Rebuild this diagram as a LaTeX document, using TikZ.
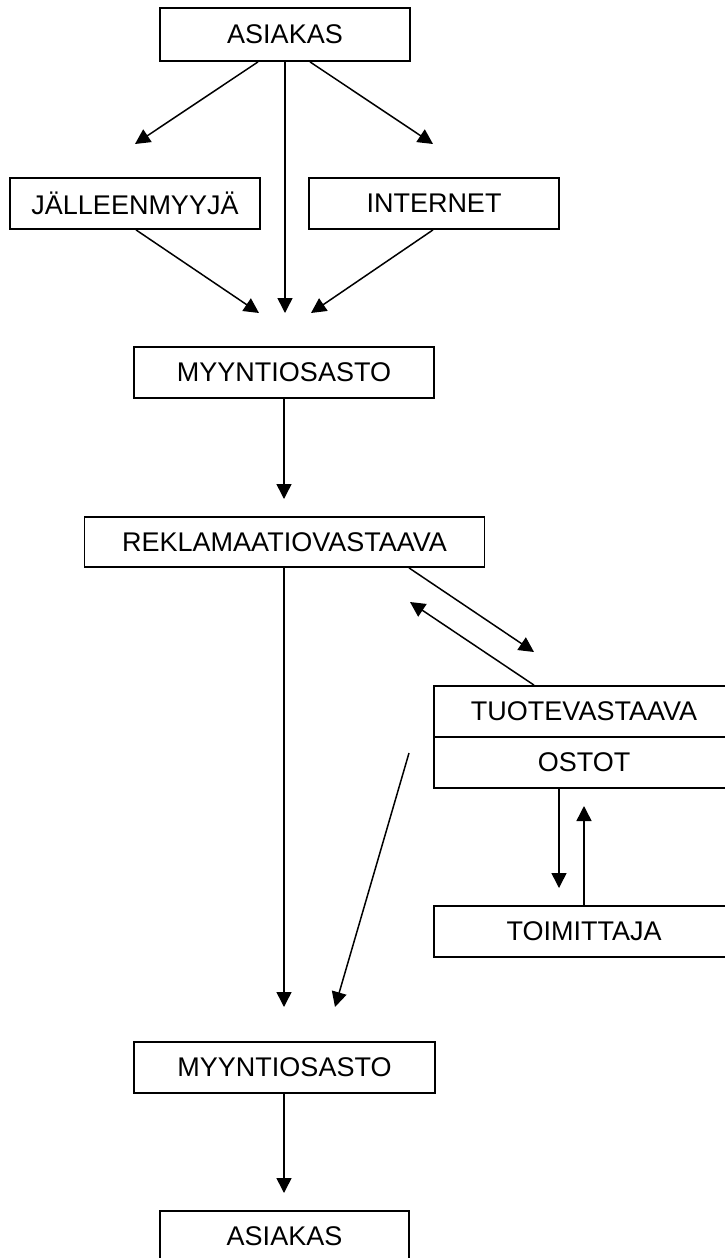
\documentclass[tikz,border=0pt]{standalone}
\usepackage{fontspec}
\setmainfont{Liberation Sans}
\usetikzlibrary{arrows.meta}
\begin{document}
\begin{tikzpicture}[x=1pt,y=-1pt,
  box/.style={draw,line width=1.8pt,rectangle,inner sep=0pt,minimum height=51pt,
    font=\fontsize{27}{30}\selectfont},
  conn/.style={line width=1.5pt,-{Triangle[length=15pt,width=15pt]}}]
\useasboundingbox (0,0) rectangle (725,1258);
\clip (0,0) rectangle (725,1258);
% nodes
\node[box,minimum width=250pt,minimum height=53pt] (a1) at (285,34.5) {ASIAKAS};
\node[box,minimum width=250pt] (jm) at (135,203.5) {JÄLLEENMYYJÄ};
\node[box,minimum width=250pt] (in) at (434,203.5) {INTERNET};
\node[box,minimum width=300pt] (m1) at (284,372.5) {MYYNTIOSASTO};
\node[box,minimum width=400pt,minimum height=50pt] (rek) at (284.5,542) {REKLAMAATIOVASTAAVA};
\node[box,minimum width=300pt] (tuote) at (584,711.5) {TUOTEVASTAAVA};
\node[box,minimum width=300pt] (ostot) at (584,762.5) {OSTOT};
\node[box,minimum width=300pt] (toim) at (584,931.5) {TOIMITTAJA};
\node[box,minimum width=301pt] (m2) at (284.5,1067.5) {MYYNTIOSASTO};
\node[box,minimum width=249pt] (a2) at (284.5,1236.5) {ASIAKAS};
% free ends
\coordinate (c1) at (135,144);
\coordinate (c2) at (285,313);
\coordinate (c3) at (433,144);
\coordinate (c4) at (259,313);
\coordinate (c5) at (311,313);
\coordinate (c6) at (284,499);
\coordinate (c7) at (284,1007);
\coordinate (c8) at (534,652);
\coordinate (c9) at (410,602);
\coordinate (c10) at (409,753);
\coordinate (c11) at (335,1007);
\coordinate (c12) at (559,888);
\coordinate (c13) at (584,806);
\coordinate (c14) at (284,1193);
% connectors
\draw[conn] ([xshift=-27pt]a1.south) -- (c1);
\draw[conn] (a1.south) -- (c2);
\draw[conn] ([xshift=25pt]a1.south) -- (c3);
\draw[conn] ([xshift=1pt]jm.south) -- (c4);
\draw[conn] ([xshift=-1pt]in.south) -- (c5);
\draw[conn] (m1.south) -- (c6);
\draw[conn] ([xshift=-0.5pt]rek.south) -- (c7);
\draw[conn] ([xshift=124.5pt]rek.south) -- (c8);
\draw[conn] ([xshift=-50pt]tuote.north) -- (c9);
\draw[conn] (c10) -- (c11);
\draw[conn] ([xshift=-25pt]ostot.south) -- (c12);
\draw[conn] (toim.north) -- (c13);
\draw[conn] ([xshift=-0.5pt]m2.south) -- (c14);
\end{tikzpicture}
\end{document}
